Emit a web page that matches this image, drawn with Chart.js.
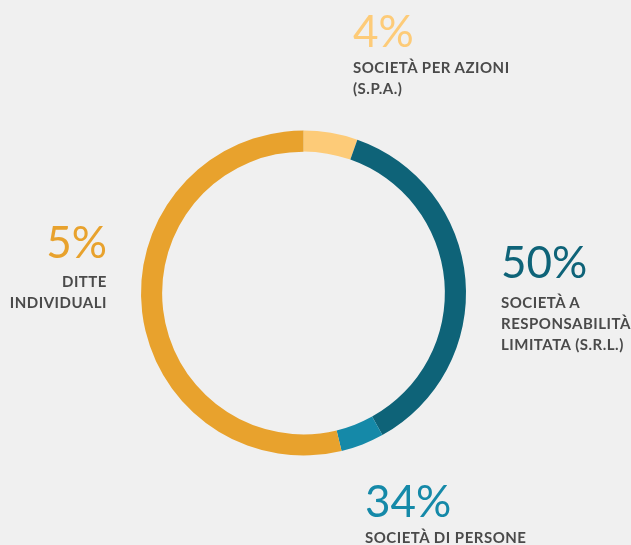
<!DOCTYPE html>
<html>
<head>
<meta charset="utf-8">
<script src="https://cdn.jsdelivr.net/npm/chart.js@4.4.0/dist/chart.umd.min.js"></script>
<style>
  html, body { margin: 0; padding: 0; background: #f0f0f0; }
  #wrap { position: relative; width: 631px; height: 545px; overflow: hidden; }
  #wrap canvas { position: absolute; left: 0; top: 0; }
  .num { position: absolute; font-family: Lato, sans-serif; font-weight: 400; font-size: 44px; line-height: 44px; white-space: nowrap; }
  .lbl { position: absolute; font-family: Lato, sans-serif; font-weight: 700; font-size: 15px; line-height: 21px; letter-spacing: 0.5px; color: #4a4a4a; white-space: nowrap; }
</style>
</head>
<body>
<div id="wrap">
  <canvas id="myChart" width="631" height="545"></canvas>
</div>
<script>
// segments as drawn, clockwise from the top
let segments = ['spa', 'srl', 'persone', 'ditte'];
let arcValues = [5, 34, 4, 50];
let arcColors = ['#fdcb78', '#0e6378', '#1589a8', '#e8a22d'];

// printed callouts
let percentLabels = ['4%', '50%', '34%', '5%'];
let nameLabels = [
    ['SOCIETÀ PER AZIONI', '(S.P.A.)'],
    ['SOCIETÀ A', 'RESPONSABILITÀ', 'LIMITATA (S.R.L.)'],
    ['SOCIETÀ DI PERSONE'],
    ['DITTE', 'INDIVIDUALI']
];

// where each callout sits (left or right edge, top of number, top of label)
let callouts = [
    { x: 353, numTop: 8, lblTop: 56.5, align: 'left' },
    { x: 501, numTop: 239, lblTop: 291.5, align: 'left' },
    { x: 365, numTop: 478, lblTop: 526.5, align: 'left' },
    { x: 107, numTop: 219, lblTop: 270.5, align: 'right' }
];

let wrap = document.getElementById('wrap');
callouts.forEach(function (c, i) {
    let num = document.createElement('div');
    num.className = 'num';
    num.textContent = percentLabels[i];
    num.style.color = arcColors[i];
    num.style.top = c.numTop + 'px';
    let lbl = document.createElement('div');
    lbl.className = 'lbl';
    lbl.innerHTML = nameLabels[i].join('<br>');
    lbl.style.top = c.lblTop + 'px';
    lbl.style.textAlign = c.align;
    if (c.align === 'left') {
        num.style.left = c.x + 'px';
        lbl.style.left = c.x + 'px';
    } else {
        num.style.right = (631 - c.x) + 'px';
        lbl.style.right = (631 - c.x) + 'px';
    }
    wrap.appendChild(num);
    wrap.appendChild(lbl);
});

let ctx = document.getElementById('myChart').getContext('2d');
let chart = new Chart(ctx, {
    type: 'doughnut',
    data: {
        labels: segments,
        datasets: [{
            data: arcValues,
            backgroundColor: arcColors,
            borderWidth: 0,
            hoverOffset: 0
        }]
    },
    options: {
        responsive: false,
        animation: false,
        events: [],
        cutout: '87%',
        layout: { padding: { left: 141, top: 130.5, right: 165, bottom: 89.5 } },
        plugins: {
            legend: { display: false },
            tooltip: { enabled: false }
        }
    }
});
</script>
</body>
</html>
